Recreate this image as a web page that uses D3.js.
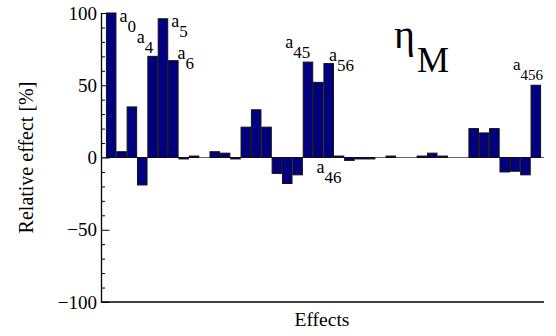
<!DOCTYPE html>
<html>
<head>
<meta charset="utf-8">
<script src="https://cdn.jsdelivr.net/npm/d3@7"></script>
<style>
    body { margin: 0; background: #fff; }
</style>
</head>
<body>
<div id="chart"></div>
<script>
// effects of the 6-factor model: main, two-way, three-way
const effects = [
    'a0', 'a1', 'a2', 'a3', 'a4', 'a5', 'a6',
    'a12', 'a13', 'a14', 'a15', 'a16', 'a23', 'a24', 'a25', 'a26',
    'a34', 'a35', 'a36', 'a45', 'a46', 'a56',
    'a123', 'a124', 'a125', 'a126', 'a134', 'a135', 'a136', 'a145', 'a146', 'a156',
    'a234', 'a235', 'a236', 'a245', 'a246', 'a256', 'a345', 'a346', 'a356', 'a456'
];
const relEffect = [
    100, 4, 35, -19, 70, 96, 67,
    -1, 1, 0, 4, 3, -1, 21, 33, 21,
    -11, -18, -12, 66, 52, 65,
    1, -2, -1, -1, 0, 1, 0, 0, 1, 3,
    1, 0, 0, 20, 17, 20, -10, -9.5, -12, 50
];
const yTicks = [-100, -50, 0, 50, 100];
const labelled = ['a0', 'a4', 'a5', 'a6', 'a45', 'a46', 'a56', 'a456'];

// label placement relative to the bar's top-left corner (pixels)
const labelPlace = {
    a0:   { dx: 13,  dy: 9,   size: 18, sub: 17 },
    a4:   { dx: -11, dy: -13, size: 18, sub: 17 },
    a5:   { dx: 13,  dy: 8,   size: 18, sub: 17 },
    a6:   { dx: 9,   dy: -2,  size: 18, sub: 17 },
    a45:  { dx: -18, dy: -14, size: 18, sub: 17 },
    a46:  { dx: 3,   dy: 91,  size: 18, sub: 17 },
    a56:  { dx: 5,   dy: -3,  size: 18, sub: 17 },
    a456: { dx: -18, dy: -15, size: 17, sub: 15 }
};

const serif = '"Liberation Serif", "Times New Roman", Times, "DejaVu Serif", serif';

const W = 556, H = 336;
const svg = d3.select('#chart').append('svg')
    .attr('width', W)
    .attr('height', H)
    .attr('font-family', serif)
    .style('font-family', serif);

const x = d3.scaleBand()
    .domain(effects)
    .range([106, 541])
    .paddingInner(0.08)
    .paddingOuter(0.04);

const y = d3.scaleLinear()
    .domain([-100, 100])
    .range([302, 13]);

const left = 101.5, right = 544;

// zero line
svg.append('line')
    .attr('x1', left).attr('x2', right)
    .attr('y1', y(0)).attr('y2', y(0))
    .attr('stroke', '#666')
    .attr('stroke-width', 1.2);

// bars (zero effects leave an empty slot)
svg.selectAll('.bar')
    .data(effects.filter((d, i) => relEffect[i] !== 0))
    .enter()
    .append('rect')
    .attr('class', 'bar')
    .attr('x', d => x(d))
    .attr('width', x.bandwidth())
    .attr('y', d => Math.min(y(relEffect[effects.indexOf(d)]), y(0)))
    .attr('height', d => Math.abs(y(relEffect[effects.indexOf(d)]) - y(0)))
    .attr('fill', '#000080')
    .attr('stroke', '#111')
    .attr('stroke-width', 1);

// y axis: ticks pointing inward
const yAxis = svg.append('g')
    .attr('transform', `translate(${left},0)`)
    .call(d3.axisRight(y).tickValues(d3.range(-100, 101, 10)).tickSize(3.5).tickFormat(''));
yAxis.select('.domain').remove();
yAxis.selectAll('line').attr('stroke', '#000');
yAxis.selectAll('.tick').filter(d => yTicks.includes(d))
    .select('line').attr('x2', 8);

svg.append('line')
    .attr('x1', left).attr('x2', left)
    .attr('y1', y(100)).attr('y2', y(-100))
    .attr('stroke', '#000').attr('stroke-width', 1.3);
svg.append('line')
    .attr('x1', left - 0.6).attr('x2', right)
    .attr('y1', y(-100)).attr('y2', y(-100))
    .attr('stroke', '#000').attr('stroke-width', 1.3);

svg.selectAll('.ytick')
    .data(yTicks)
    .enter()
    .append('text')
    .attr('x', 97)
    .attr('y', d => y(d) + 6.5)
    .attr('text-anchor', 'end')
    .attr('font-size', '19px')
    .text(d => d < 0 ? '\u2212' + Math.abs(d) : d);

// axis titles
svg.append('text')
    .attr('transform', `translate(33,${(y(100) + y(-100)) / 2}) rotate(-90)`)
    .attr('text-anchor', 'middle')
    .attr('font-size', '20px')
    .text('Relative effect [%]');

svg.append('text')
    .attr('x', 322)
    .attr('y', 326)
    .attr('text-anchor', 'middle')
    .attr('font-size', '19.5px')
    .text('Effects');

// η_M
const eta = svg.append('text')
    .attr('x', 394)
    .attr('y', 48)
    .attr('font-size', '40px');
eta.append('tspan').text('\u03B7');
eta.append('tspan').attr('font-size', '36px').attr('dy', 24).attr('dx', 2).text('M');

// effect labels
labelled.forEach(name => {
    const i = effects.indexOf(name);
    const p = labelPlace[name];
    const t = svg.append('text')
        .attr('x', x(name) + p.dx)
        .attr('y', y(relEffect[i]) + p.dy)
        .attr('font-size', p.size + 'px');
    t.append('tspan').text('a');
    t.append('tspan')
        .attr('font-size', p.sub + 'px')
        .attr('dy', 10)
        .text(name.slice(1));
});
</script>
</body>
</html>
